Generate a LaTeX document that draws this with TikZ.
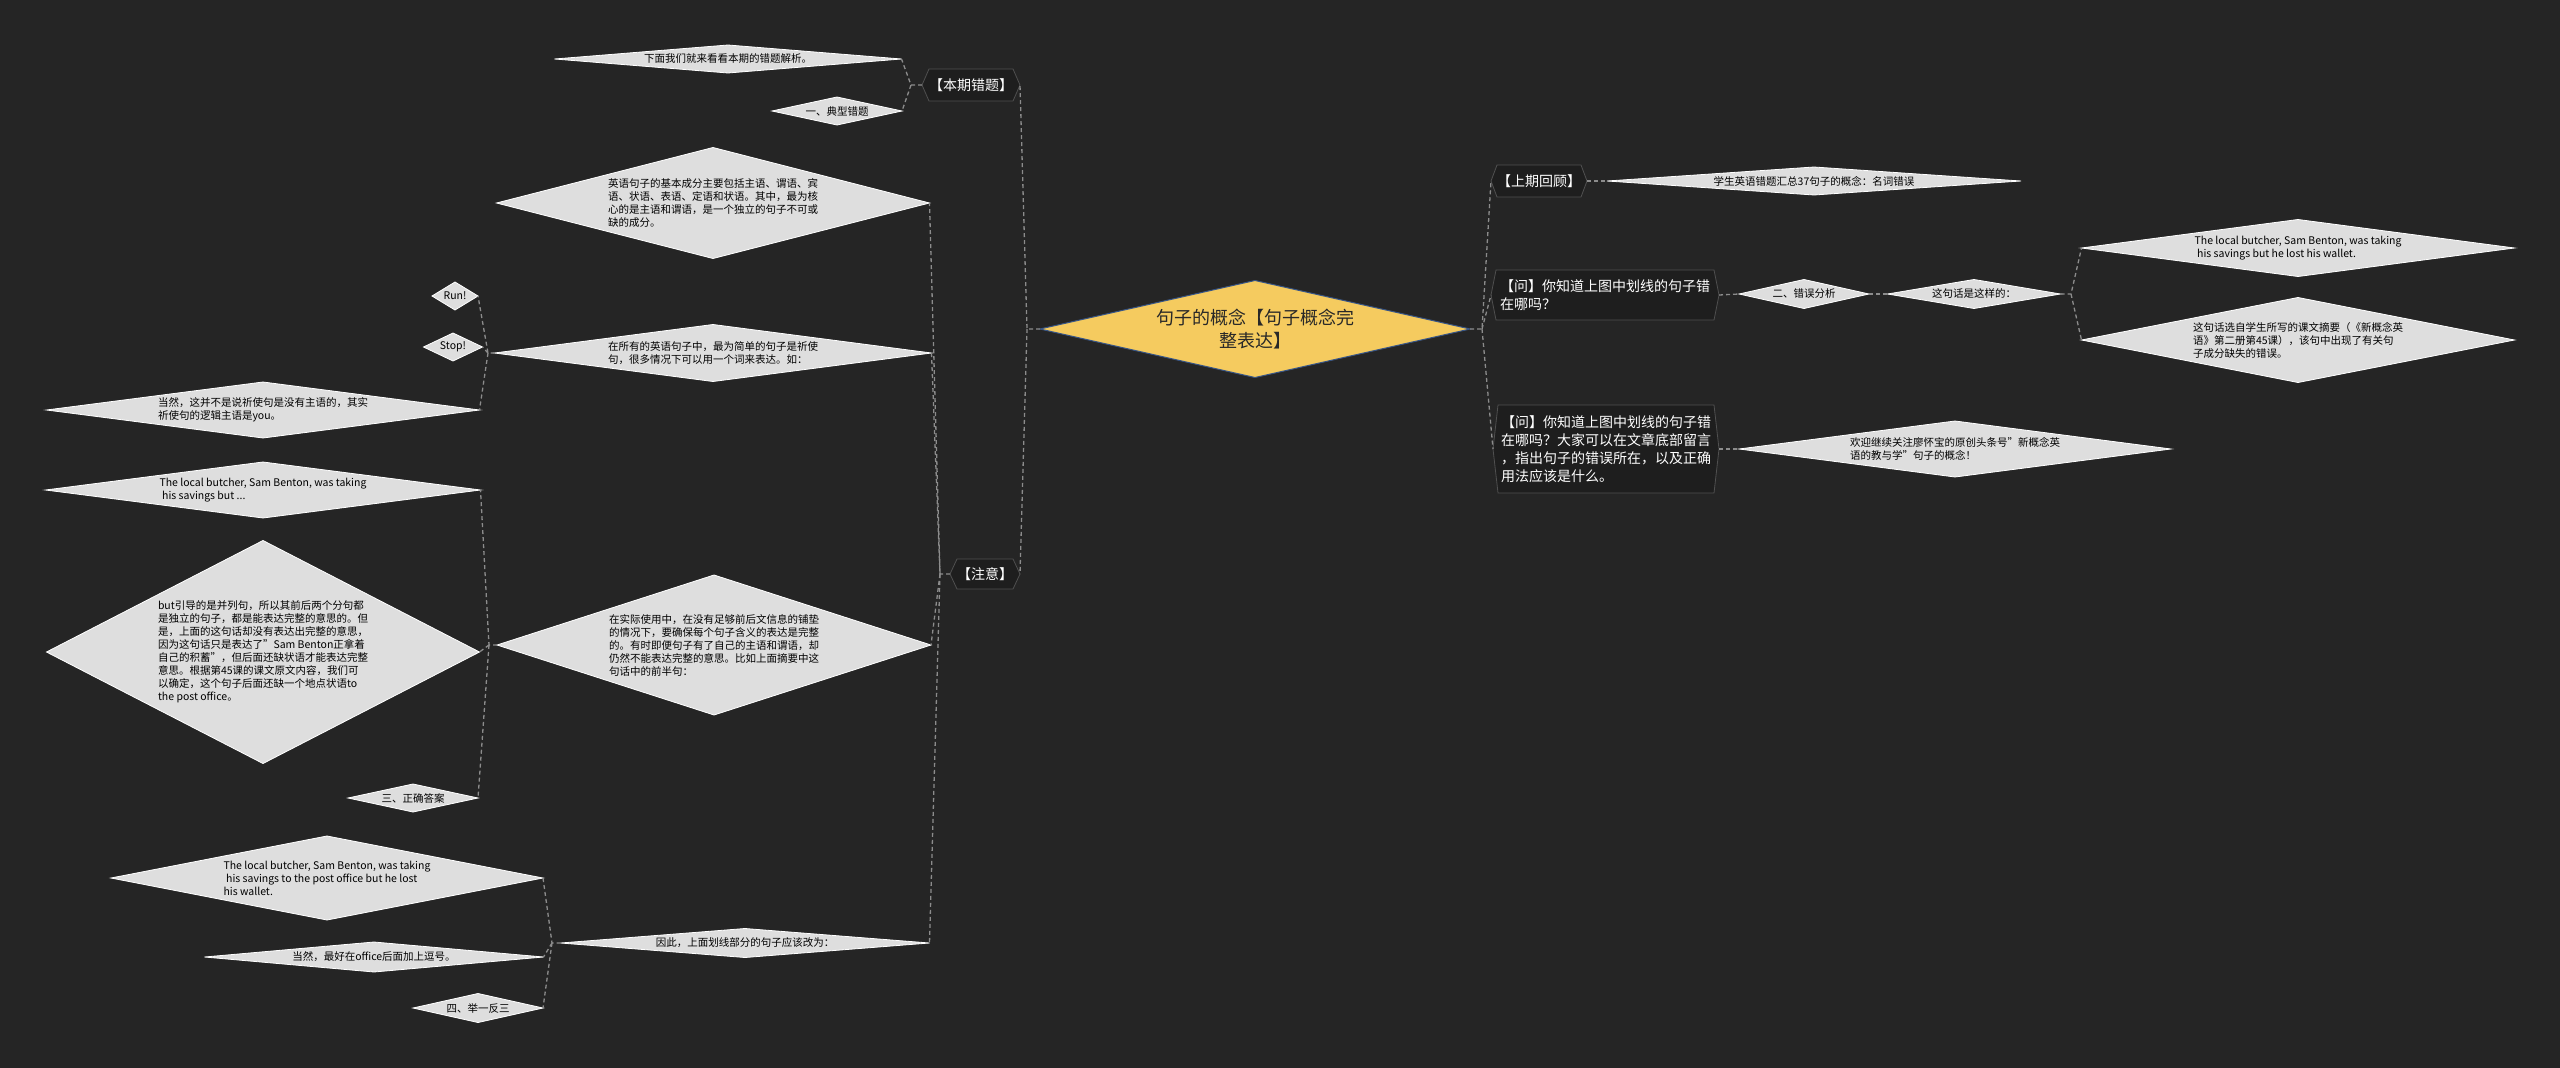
\documentclass[tikz,border=0pt]{standalone}
\usepackage{fontspec}
\setmainfont{Noto Sans CJK SC}
\usetikzlibrary{shapes.geometric}
\pgfdeclarelayer{bg}
\pgfsetlayers{bg,main}
\definecolor{bgc}{RGB}{37,37,37}
\definecolor{difill}{RGB}{222,222,222}
\definecolor{boxfill}{RGB}{30,30,30}
\definecolor{boxline}{RGB}{80,80,80}
\definecolor{connc}{RGB}{140,140,140}
\definecolor{cfill}{RGB}{245,203,95}
\definecolor{cline}{RGB}{55,85,135}
\definecolor{ctext}{RGB}{40,40,40}
\tikzset{
  conn/.style={draw=connc, line width=1.3pt, dash pattern=on 4pt off 3pt},
  dshape/.style={diamond, fill=difill, draw=white, line width=0.8pt, inner sep=0pt, outer sep=0pt},
  dtext/.style={align=left, font=\fontsize{10.5}{13}\selectfont, text=black, inner sep=0pt},
  boxtext/.style={align=left, text=white, font=\fontsize{14}{18}\selectfont, inner sep=0pt, outer sep=0pt},
  boxshape/.style={fill=boxfill, draw=boxline, line width=0.8pt},
  cdia/.style={diamond, fill=cfill, draw=cline, line width=1pt, inner sep=0pt, outer sep=0pt},
  ctextst/.style={align=center, text=ctext, font=\fontsize{18}{23}\selectfont, inner sep=0pt}
}
\newcommand\dia[6]{%
  \node[dshape, minimum width=#4pt, minimum height=#5pt] (#1) at (#2,#3) {};
  \node[dtext] (#1t) at (#1) {#6};}
\newcommand\hexbox[7]{%
  \node[boxtext, minimum width={(#4-2*#6)*1pt}, minimum height=#5pt] (#1) at (#2,#3) {#7};
  \begin{pgfonlayer}{bg}
  \path[boxshape] (#1.north west) -- ([xshift=-#6pt]#1.west) -- (#1.south west) -- (#1.south east) -- ([xshift=#6pt]#1.east) -- (#1.north east) -- cycle;
  \end{pgfonlayer}
  \coordinate (#1-l) at ([xshift=-#6pt]#1.west);
  \coordinate (#1-r) at ([xshift=#6pt]#1.east);}
\begin{document}
\begin{tikzpicture}[x=1pt, y=-1pt]
\begin{pgfonlayer}{bg}
\fill[bgc] (0,0) rectangle (2560,1068);
\end{pgfonlayer}
\useasboundingbox (0,0) rectangle (2560,1068);

% central
\node[cdia, minimum width=430pt, minimum height=97pt] (c) at (1255,329) {};
\node[ctextst] (ct) at (c) {句子的概念【句子概念完\\整表达】};

% right side
\hexbox{b1}{1539}{181}{96}{32}{6}{【上期回顾】}
\dia{d1}{1814}{181}{414}{28}{学生英语错题汇总37句子的概念：名词错误}
\hexbox{b2}{1605}{295}{228}{50}{5}{【问】你知道上图中划线的句子错\\在哪吗？}
\dia{d2}{1804}{294}{130}{29}{二、错误分析}
\dia{d3}{1974}{294}{173}{29}{这句话是这样的：}
\dia{d4}{2298}{248}{433}{57}{The local butcher, Sam Benton, was taking\\\hspace*{0.25em}his savings but he lost his wallet.}
\dia{d5}{2298}{340}{433}{85}{这句话选自学生所写的课文摘要（《新概念英\\语》第二册第45课），该句中出现了有关句\\子成分缺失的错误。}
\hexbox{b3}{1606}{449}{226}{88}{5}{【问】你知道上图中划线的句子错\\在哪吗？大家可以在文章底部留言\\，指出句子的错误所在，以及正确\\用法应该是什么。}
\dia{d6}{1955}{449}{432}{56}{欢迎继续关注廖怀宝的原创头条号"新概念英\\语的教与学"句子的概念！}

% left side
\hexbox{b4}{971}{85}{98}{32}{7}{【本期错题】}
\hexbox{b5}{985}{574}{70}{30}{7}{【注意】}
\dia{d7}{728}{59}{347}{28}{下面我们就来看看本期的错题解析。}
\dia{d8}{837}{111}{130}{28}{一、典型错题}
\dia{d9}{713}{203}{433}{111}{英语句子的基本成分主要包括主语、谓语、宾\\语、状语、表语、定语和状语。其中，最为核\\心的是主语和谓语，是一个独立的句子不可或\\缺的成分。}
\dia{d10}{713}{353}{437}{57}{在所有的英语句子中，最为简单的句子是祈使\\句，很多情况下可以用一个词来表达。如：}
\dia{d11}{455}{296}{46}{28}{Run!}
\dia{d12}{453}{347}{59}{28}{Stop!}
\dia{d13}{263}{410}{433}{56}{当然，这并不是说祈使句是没有主语的，其实\\祈使句的逻辑主语是you。}
\dia{d14}{714}{645}{434}{140}{在实际使用中，在没有足够前后文信息的铺垫\\的情况下，要确保每个句子含义的表达是完整\\的。有时即便句子有了自己的主语和谓语，却\\仍然不能表达完整的意思。比如上面摘要中这\\句话中的前半句：}
\dia{d15}{263}{490}{435}{56}{The local butcher, Sam Benton, was taking\\\hspace*{0.25em}his savings but ...}
\dia{d16}{263}{652}{433}{223}{but引导的是并列句，所以其前后两个分句都\\是独立的句子，都是能表达完整的意思的。但\\是，上面的这句话却没有表达出完整的意思，\\因为这句话只是表达了"Sam Benton正拿着\\自己的积蓄"，但后面还缺状语才能表达完整\\意思。根据第45课的课文原文内容，我们可\\以确定，这个句子后面还缺一个地点状语to\\the post office。}
\dia{d17}{413}{798}{130}{28}{三、正确答案}
\dia{d18}{745}{943}{369}{29}{因此，上面划线部分的句子应该改为：}
\dia{d19}{327}{878}{432}{84}{The local butcher, Sam Benton, was taking\\\hspace*{0.25em}his savings to the post office but he lost\\his wallet.}
\dia{d20}{374}{957}{339}{30}{当然，最好在office后面加上逗号。}
\dia{d21}{478}{1008}{130}{29}{四、举一反三}

% junctions
\coordinate (jR) at (1482,329);
\coordinate (jL) at (1027,329);
\coordinate (j4) at (911,85);
\coordinate (j5) at (940,574);
\coordinate (j10) at (488,353);
\coordinate (j14) at (489,645);
\coordinate (j18) at (552,943);
\coordinate (j3) at (2071,294);

% connectors
\draw[conn] (c.east) -- (jR) -- (b1-l);
\draw[conn] (jR) -- (b2-l);
\draw[conn] (jR) -- (b3-l);
\draw[conn] (c.west) -- (jL) -- (b4-r);
\draw[conn] (jL) -- (b5-r);
\draw[conn] (b4-l) -- (j4) -- (d7.east);
\draw[conn] (j4) -- (d8.east);
\draw[conn] (b5-l) -- (j5) -- (d9.east);
\draw[conn] (j5) -- (d10.east);
\draw[conn] (j5) -- (d14.east);
\draw[conn] (j5) -- (d18.east);
\draw[conn] (d10.west) -- (j10) -- (d11.east);
\draw[conn] (j10) -- (d12.east);
\draw[conn] (j10) -- (d13.east);
\draw[conn] (d14.west) -- (j14) -- (d15.east);
\draw[conn] (j14) -- (d16.east);
\draw[conn] (j14) -- (d17.east);
\draw[conn] (d18.west) -- (j18) -- (d19.east);
\draw[conn] (j18) -- (d20.east);
\draw[conn] (j18) -- (d21.east);
\draw[conn] (b1-r) -- (d1.west);
\draw[conn] (b2-r) -- (d2.west);
\draw[conn] (d2.east) -- (d3.west);
\draw[conn] (d3.east) -- (j3) -- (d4.west);
\draw[conn] (j3) -- (d5.west);
\draw[conn] (b3-r) -- (d6.west);
\end{tikzpicture}
\end{document}
